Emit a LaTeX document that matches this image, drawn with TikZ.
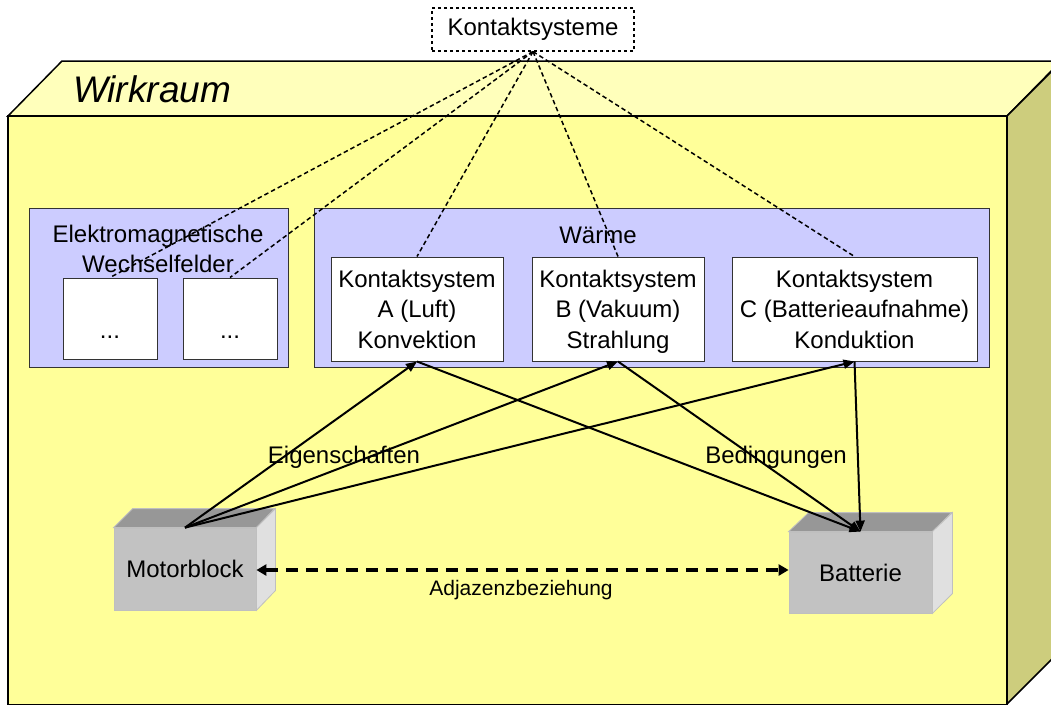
\documentclass[tikz,border=0pt]{standalone}
\usepackage{fontspec}
\setmainfont{Liberation Sans}
\usetikzlibrary{arrows.meta}

\definecolor{roomfront}{HTML}{FFFF99}
\definecolor{roomtop}{HTML}{FFFFBB}
\definecolor{roomside}{HTML}{CDCD7D}
\definecolor{groupfill}{HTML}{CCCCFF}
\definecolor{blockfront}{HTML}{C2C2C2}
\definecolor{blocktop}{HTML}{979797}
\definecolor{blockside}{HTML}{E0E0E0}

\begin{document}
\begin{tikzpicture}[x=1pt,y=-1pt,
  txt/.style={font=\fontsize{24}{30.5}\selectfont, inner sep=0pt},
  groupbox/.style={draw=black!80, line width=1pt, fill=groupfill, inner sep=0pt},
  csbox/.style={draw=black!80, line width=1pt, fill=white, inner sep=0pt,
    align=center, font=\fontsize{24}{30.5}\selectfont, minimum height=104pt,
    text depth=0pt},
  emslot/.style={draw=black!80, line width=1pt, fill=white, inner sep=0pt,
    minimum width=94pt, minimum height=81pt},
  blockfrontface/.style={fill=blockfront, draw=black!25, line width=0.8pt, inner sep=0pt,
    font=\fontsize{24}{30.5}\selectfont},
  linkdash/.style={line width=1.5pt, dash pattern=on 4.5pt off 3pt},
  relarrow/.style={line width=2pt, -{Triangle[length=11pt,width=9pt]}},
  adjarrow/.style={line width=4pt, dash pattern=on 12pt off 8pt,
    {Triangle[length=10pt,width=11pt]}-{Triangle[length=10pt,width=11pt]}}
]
\useasboundingbox (0,0) rectangle (1051,704);

% the surrounding room, drawn as a cut-off 3D box
\begin{scope}
  \clip (0,0) rectangle (1051,704);
  \fill[white] (0,0) rectangle (1051,704);
  \filldraw[fill=roomtop, draw=black, line width=1.5pt]
    (8,116) -- (62,61) -- (1100,61) -- (1061,61) -- (1007,116) -- cycle;
  \filldraw[fill=roomside, draw=black, line width=1.5pt]
    (1007,116) -- (1062,61) -- (1062,649) -- (1007,704) -- cycle;
  \filldraw[fill=roomfront, draw=black, line width=1.5pt]
    (8,116) rectangle (1007,705);
\end{scope}
\node[font=\fontsize{37}{42}\selectfont\itshape, inner sep=0pt, anchor=base]
  (room) at (152,102) {Wirkraum};

% heading box
\node[draw=black, dashed, line width=1.2pt, fill=white, txt,
  minimum width=202pt, minimum height=43pt] (ks) at (533,29.5) {Kontaktsysteme};

% electromagnetic fields group
\node[groupbox, minimum width=259pt, minimum height=159pt] (em) at (158.5,287.5) {};
\node[txt, align=center, anchor=north] (emtitle) at (158,224.5)
  {Elektromagnetische\\Wechselfelder};
\node[emslot] (em1) at (110,318.5) {};
\node[emslot] (em2) at (230,318.5) {};
\node[txt, anchor=base] (em1dots) at (110,338) {...};
\node[txt, anchor=base] (em2dots) at (230,338) {...};

% heat group with its three contact systems
\node[groupbox, minimum width=675pt, minimum height=159pt] (heat) at (651.5,287.5) {};
\node[txt, anchor=base] (heattitle) at (598,243) {Wärme};
\node[csbox, minimum width=172pt] (csa) at (417,309)
  {Kontaktsystem\\A (Luft)\\Konvektion};
\node[csbox, minimum width=172pt] (csb) at (618,309)
  {Kontaktsystem\\B (Vakuum)\\Strahlung};
\node[csbox, minimum width=245pt] (csc) at (854.5,309)
  {Kontaktsystem\\C (Batterieaufnahme)\\Konduktion};

% motor block
\node[blockfrontface, minimum width=142pt, minimum height=82pt] (mb) at (185,569) {Motorblock};
\filldraw[fill=blocktop, draw=black!25, line width=0.8pt]
  (mb.north west) -- ++(19,-19) -- ++(142,0) -- (mb.north east) -- cycle;
\filldraw[fill=blockside, draw=black!25, line width=0.8pt]
  (mb.north east) -- ++(19,-19) -- ++(0,82) -- (mb.south east) -- cycle;

% battery
\node[blockfrontface, minimum width=143pt, minimum height=81pt] (bat) at (860.5,572.5) {Batterie};
\filldraw[fill=blocktop, draw=black!25, line width=0.8pt]
  (bat.north west) -- ++(20,-19) -- ++(143,0) -- (bat.north east) -- cycle;
\filldraw[fill=blockside, draw=black!25, line width=0.8pt]
  (bat.north east) -- ++(20,-19) -- ++(0,81) -- (bat.south east) -- cycle;

% dashed links from the heading to the contact systems
\foreach \t in {em1,em2,csa,csb,csc}
  \draw[linkdash] (ks.south) -- (\t.north);

% properties and conditions
\foreach \t in {csa,csb,csc}
  \draw[relarrow] (mb.north) -- (\t.south);
\foreach \s in {csa,csb,csc}
  \draw[relarrow] (\s.south) -- (bat.north);

\node[txt, anchor=base] (props) at (344,463) {Eigenschaften};
\node[txt, anchor=base] (conds) at (776,463) {Bedingungen};

% adjacency
\draw[adjarrow] (mb.east |- 0,570) -- (bat.west |- 0,570);
\node[font=\fontsize{21}{25}\selectfont, inner sep=0pt, anchor=base] (adj) at (521,595)
  {Adjazenzbeziehung};
\end{tikzpicture}
\end{document}
